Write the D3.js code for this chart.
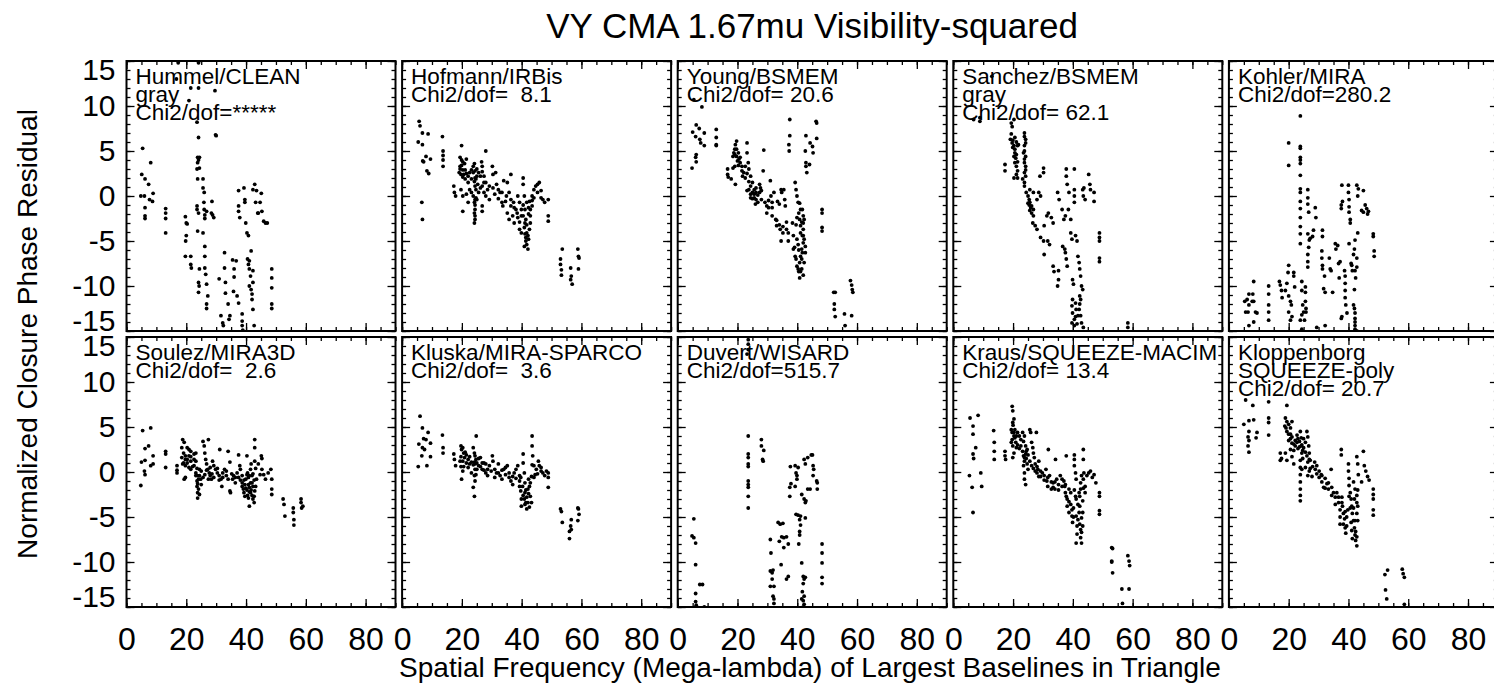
<!DOCTYPE html>
<html>
<head>
<meta charset="utf-8">
<script src="https://cdn.jsdelivr.net/npm/d3@7"></script>
<style>
  body { margin: 0; background: #fff; }
  text { font-family: "Liberation Sans", Arial, Helvetica, sans-serif; fill: #000; }
</style>
</head>
<body>
<div id="chart"></div>
<script>
// chart text
var title = "VY CMA 1.67mu Visibility-squared";
var xTitle = "Spatial Frequency (Mega-lambda) of Largest Baselines in Triangle";
var yTitle = "Normalized Closure Phase Residual";

var panelLabels = [
  ["Hummel/CLEAN", "gray", "Chi2/dof=*****"],
  ["Hofmann/IRBis", "Chi2/dof=  8.1"],
  ["Young/BSMEM", "Chi2/dof= 20.6"],
  ["Sanchez/BSMEM", "gray", "Chi2/dof= 62.1"],
  ["Kohler/MIRA", "Chi2/dof=280.2"],
  ["Soulez/MIRA3D", "Chi2/dof=  2.6"],
  ["Kluska/MIRA-SPARCO", "Chi2/dof=  3.6"],
  ["Duvert/WISARD", "Chi2/dof=515.7"],
  ["Kraus/SQUEEZE-MACIM", "Chi2/dof= 13.4"],
  ["Kloppenborg", "SQUEEZE-poly", "Chi2/dof= 20.7"]
];

// tick values
var xMajor = [0, 20, 40, 60, 80];
var xMinor = [0,5,10,15,20,25,30,35,40,45,50,55,60,65,70,75,80,85,90];
var yMajor = [-15, -10, -5, 0, 5, 10, 15];
var yMinor = [-15,-14,-13,-12,-11,-10,-9,-8,-7,-6,-5,-4,-3,-2,-1,0,1,2,3,4,5,6,7,8,9,10,11,12,13,14,15];

// [spatial frequency, normalized residual]
var p1 = [
[5.4,5.3],[5.1,2.4],[6.2,1.9],[7.4,1.3],[8.1,3.7],[4.8,0],[6.0,0],[6.2,-1.3],[6.2,-2.2],[6.2,-2.5],[7.7,-0.4],[8.7,-0.6],[8.9,0.3],
[13.1,-1.4],[13.1,-1.9],[13.1,-2.5],[13.1,-4.1],
[19.7,-2.3],[20.0,-3.0],[20.3,-3.1],[20.0,-4.4],[19.8,-5.0],[19.7,-6.7],[21.5,-6.7],[21.5,-7.6],[21.7,-8.0],
[23.8,4.3],[24.1,4.0],[23.8,3.7],[23.6,3.0],[24.4,4.3],[23.8,1.9],[24.4,3.1],[23.6,-1.1],[23.6,-1.5],[24.1,-1.9],[23.8,-3.9],[24.4,-8.1],[24.1,-9.6],[24.3,-10.0],[24.1,-10.7],
[25.6,1.9],[25.6,0.9],[26.0,0.4],[25.9,-0.7],[26.0,-1.5],[26.2,-2.1],[26.2,-2.5],[26.8,-1.7],[25.6,-4.1],[26.2,-5.6],[26.2,-6.7],[26.2,-8.0],[26.5,-8.7],[26.8,-9.8],[27.2,-11.1],[26.8,-12.0],[26.8,-12.5],
[28.6,-0.6],[28.4,-1.9],[28.8,-2.1],[29.2,-2.4],
[21.5,12.0],[24.1,12.0],[20.9,10.6],[29.6,11.7],[29.8,6.8],[30.0,6.7],[24.1,6.5],[17.3,14.8],[24.1,14.8],[16.7,13.0],[23.6,8.2],
[31.0,-9.2],[31.6,-13.3],[32.2,-14.1],[32.8,-6.3],[32.8,-8.0],[33.1,-9.6],[33.1,-10.8],[32.4,-14.4],[34.0,-12.0],[34.3,-13.7],[34.6,-13.3],[35.5,-7.1],[36.0,-8.1],[36.0,-9.0],[35.8,-10.6],[36.7,-7.2],[37.0,-11.1],[37.5,-11.9],
[37.5,0.6],[37.5,-1.1],[37.5,-1.7],[37.9,-2.4],[38.7,-13.1],[38.7,-13.9],[38.7,-14.4],[38.9,-14.9],
[39.3,0.9],[39.6,-0.4],[39.6,-0.7],[39.9,-3.0],[40.3,-4.1],[40.8,-4.4],[40.5,-7.0],[40.8,-7.6],[41.1,-7.2],[41.1,-8.1],[41.5,-8.9],[41.7,-6.1],[42.3,-8.3],[42.3,-9.6],[41.7,-10.4],[42.0,-10.9],[42.3,-12.6],[42.7,-14.4],[42.0,-11.5],[41.1,-10.0],
[42.3,0.7],[42.9,1.3],[43.5,0.6],[43.2,-0.7],[43.9,-1.9],[44.1,-1.9],[45.1,0.3],[44.7,-0.7],[45.3,-1.7],[45.9,-2.8],[46.5,-3.0],[47.1,-3.0],
[48.6,-8.1],[48.6,-9.1],[48.6,-10.2],[48.6,-12.0],[48.6,-12.5]
];

var p2 = [
[5.7,8.3],[6.0,7.8],[6.8,7.0],[8.7,6.9],[5.4,6.0],[6.8,5.7],[8.0,4.4],[6.9,3.9],[7.2,3.8],[9.5,4.1],[8.3,2.8],[8.9,2.5],[6.6,-0.7],[6.8,-2.6],
[13.5,6.6],[13.7,5.0],[13.7,4.5],[13.7,4.0],[13.7,3.3],
[19.9,5.6],[19.4,4.3],[19.9,4.0],[20.3,3.8],[19.4,3.3],[20.9,3.6],[21.5,4.1],[19.1,2.6],[19.7,2.4],[20.3,2.1],[21.1,1.9],[22.1,1.5],[23.2,1.9],[23.8,2.6],[24.4,2.8],[25.0,3.0],[26.6,3.8],[26.8,3.3],[28.0,5.0],[27.4,2.2],[24.4,1.1],[24.7,0.7],[23.8,0],[24.2,-0.7],[24.4,-1.5],[24.4,-2.2],[24.2,-3.0],[25.0,-0.4],[25.6,0.4],[26.2,0.9],[26.8,1.1],[27.4,1.5],
[17.3,1.1],[17.5,0.4],[17.9,0],[19.7,0.7],[20.3,0],[21.5,0.2],[22.1,-0.7],[20.3,-1.7],[22.6,0.7],[23.2,0.4],[26.8,-1.1],[26.8,-1.7],[28.0,0],[28.6,0.7],[29.2,-0.4],
[30.2,3.3],[30.4,2.4],[31.3,2.6],[31.6,1.3],[32.2,0.7],[32.8,0.4],[33.4,-0.7],[33.7,-1.1],[34.0,1.7],[35.2,1.5],[36.4,2.4],[35.8,0.4],[36.4,-0.4],[35.2,-1.9],[35.8,-2.6],[37.0,-2.2],[37.5,-3.0],[38.1,-1.5],[38.7,0],[39.3,-0.7],[39.3,-3.7],[39.9,-4.1],
[40.5,2.0],[40.5,1.3],[40.9,0],[41.1,-1.5],[41.1,-3.0],[41.4,-4.6],[41.7,-5.4],[42.1,-5.9],[42.3,-4.8],[42.6,-3.7],[42.9,-3.0],[42.9,-2.2],[43.5,-1.1],[43.5,0],[44.1,0.7],[44.7,1.1],[45.3,1.3],[45.9,1.5],[46.5,-0.2],[47.1,-0.4],[47.7,-0.7],[48.9,-0.4],[48.9,-2.2],[48.9,-2.8],[42.3,-2.0],[41.7,-0.7],[39.9,-1.5],[38.5,-1.9],[37.3,-0.7],[34.9,0],
[19.4,3.0],[19.9,3.4],[20.3,2.9],[20.6,2.4],[21.1,2.9],[21.5,2.5],[22.1,2.2],[22.6,2.6],[23.2,2.9],[23.8,3.3],[24.2,3.6],[24.4,2.0],[24.2,1.6],[24.7,1.9],[25.0,2.2],[25.6,2.6],[26.2,2.2],[26.8,2.7],[24.4,-0.4],[24.4,-1.0],[24.2,-1.9],[24.4,-2.6],[24.7,-0.2],[25.3,1.3],[27.4,0.4],[28.0,1.5],[29.2,1.1],[30.4,0.9],[31.0,0.2],[32.2,-0.3],[33.4,0.4],[34.6,-0.6],[36.4,-1.1],[37.5,-1.3],[38.7,-2.4],[39.3,-2.9],[39.9,-2.2],[40.5,-1.0],[40.5,-2.2],[40.9,-3.5],[41.1,-4.2],[41.4,-2.6],[41.7,-3.2],[41.7,-4.1],[42.1,-4.4],[42.3,-1.3],[42.6,-0.6],[42.9,-1.5],[43.5,-0.5],[44.1,-0.2],[45.3,0.4],[46.5,0.6],[41.4,-5.0],[40.9,-5.6],
[53.0,-7.0],[53.0,-7.6],[53.3,-8.2],[53.3,-8.8],[53.6,-5.9],[56.4,-8.0],[56.6,-8.9],[56.4,-9.3],[56.9,-9.8],[58.8,-5.9],[59.0,-6.7],[59.2,-6.9],[59.0,-8.1]
];

var p3 = [
[5.4,10.7],[8.1,9.9],[6.2,7.9],[7.2,7.5],[5.0,7.1],[6.0,6.6],[7.4,6.3],[8.9,7.0],[7.7,5.9],[8.9,5.6],[6.2,4.6],[6.0,4.3],[6.2,3.8],[4.8,3.1],
[12.9,7.4],[12.9,6.5],[12.9,5.7],[12.9,5.6],
[19.7,6.1],[19.3,5.7],[19.1,5.2],[18.8,4.8],[18.5,4.4],[19.7,4.4],[20.3,4.8],[20.5,4.1],[19.1,3.3],[18.5,3.1],[16.7,3.0],[16.7,2.4],[16.9,2.1],[17.9,1.9],[19.3,1.3],[20.9,3.7],[21.5,2.8],[21.7,2.2],[22.6,3.3],[23.2,5.9],[23.2,4.8],[23.6,3.7],[23.8,3.0],[24.4,2.2],[25.0,1.5],[23.8,0.7],[23.2,0.6],[24.4,0.2],[25.6,0.7],[26.2,0.4],[26.2,-0.4],[26.8,-0.7],[26.0,-0.9],[27.4,1.3],[27.7,0.9],[28.0,0.6],[28.6,2.8],[28.8,5.1],
[29.2,-0.7],[29.8,-1.1],[29.8,-1.9],[30.4,-1.3],[31.0,1.7],[31.2,0],[31.6,-0.7],[31.6,-1.3],[32.2,0.4],[32.8,-2.6],[33.1,-3.3],[33.4,-0.6],[34.0,-0.9],[34.3,-3.7],[34.6,0.7],[34.8,0.4],[35.5,0.7],[35.8,-0.4],[36.0,-1.1],[36.4,-3.7],[37.0,-4.1],[35.2,-4.1],[34.6,-5.0],[37.0,-5.0],
[37.5,8.5],[37.5,6.7],[37.2,5.7],[37.3,5.0],[38.4,-3.0],[38.7,-4.4],[38.7,-5.9],[39.3,1.5],[39.6,0.7],[39.9,0],[40.3,-0.7],[40.5,-1.9],[39.9,-2.4],[39.1,-5.7],[39.3,-6.7],[39.6,-7.0],[39.9,-7.8],[40.3,-8.1],[40.5,-8.4],[40.8,-9.1],[41.1,-6.7],[41.5,-5.9],[41.7,-1.5],[42.0,-2.2],[42.0,-3.0],[42.0,-3.7],[42.3,-4.8],[42.7,-5.6],[42.7,-6.3],[42.3,-7.4],[41.1,-1.5],[40.8,-2.6],[41.1,-4.1],[41.7,-4.4],[41.5,-8.1],
[19.1,4.6],[19.7,5.2],[20.0,3.9],[20.3,3.4],[20.9,4.3],[21.5,3.3],[22.1,2.6],[22.6,2.0],[23.2,2.5],[23.8,1.6],[24.4,1.1],[24.4,-0.2],[25.0,0.4],[25.0,-0.3],[25.6,-0.2],[25.6,0.2],[26.2,0.9],[26.8,0.1],[27.4,0.4],[28.0,-0.4],[30.4,-0.5],[31.6,-2.2],[33.1,-2.7],[34.0,-3.2],[35.2,-3.4],[36.4,-2.9],[39.6,-3.2],[39.9,-4.8],[40.3,-5.4],[40.5,-6.0],[40.8,-7.4],[41.1,-8.4],[41.5,-7.0],[41.7,-6.3],[42.0,-5.2],[42.0,-4.4],[41.1,-3.3],[40.8,-0.8],[41.5,-2.9],[42.3,-2.6],[42.0,-8.8],
[42.9,6.7],[42.7,5.0],[42.9,3.7],[42.9,3.3],[43.2,2.6],[44.1,3.5],[44.3,5.9],[45.1,5.5],[45.3,4.8],[46.3,8.3],[46.5,8.1],[46.5,6.4],
[48.3,-1.5],[48.3,-1.9],[48.3,-3.5],[48.3,-3.9],
[52.2,-10.7],[52.7,-10.7],[52.4,-12.0],[52.4,-12.6],[52.7,-13.4],[55.8,-13.1],[56.0,-14.4],[57.8,-9.4],[58.2,-9.9],[58.4,-10.4],[58.6,-10.7],[58.2,-13.3]
];

var p4 = [
[8.9,8.7],[6.8,8.5],[8.9,8.3],[12.9,13.3],[19.4,8.1],[19.7,7.7],[20.3,8.5],
[19.4,6.9],[19.1,6.3],[19.7,5.9],[19.9,5.4],[20.6,6.5],[21.1,6.0],[21.5,5.6],[20.6,4.8],[21.8,5.7],[20.3,4.4],[20.6,3.7],[21.1,3.3],[21.5,2.8],[20.3,2.0],[21.5,2.0],[17.3,3.5],[17.3,2.8],
[23.8,7.0],[24.2,6.3],[23.8,5.6],[23.5,4.8],[23.8,4.1],[24.2,3.3],[23.8,2.6],[23.2,1.9],[23.8,1.1],[24.4,0.4],[25.0,0],[25.4,-0.4],[25.6,-0.7],[25.9,-1.3],[26.2,-1.9],[26.8,-2.2],[26.6,-3.0],[27.4,-3.3],[25.6,0.7],[26.8,0.4],[28.0,-0.4],[28.6,0.4],[29.2,0],[30.2,3.1],[30.2,2.6],[29.0,2.2],[28.0,-3.7],[29.2,-4.6],[30.2,-5.0],[30.4,-3.3],[31.3,-2.2],[31.8,-1.9],[32.8,-2.4],[33.4,-3.0],[31.6,-5.0],[32.2,-5.4],[30.4,-6.5],[33.4,-7.8],[33.7,-8.4],[35.2,-8.3],[35.2,-9.3],[34.9,-10.0],
[19.9,6.2],[20.3,5.6],[20.6,5.2],[20.9,4.2],[21.1,4.6],[21.5,3.8],[21.1,2.4],[23.8,6.6],[24.2,5.9],[23.8,5.0],[24.2,4.4],[23.8,3.7],[24.2,2.9],[24.2,2.2],[23.8,1.5],[25.0,-0.8],[25.4,-1.0],[25.6,-1.6],[26.2,-1.1],[26.8,-1.5],
[34.9,0.4],[35.4,-0.4],[36.4,-1.5],[36.6,-5.6],[37.3,-5.9],[37.5,-6.3],[37.8,-7.0],[38.1,-7.8],[37.0,-2.6],[37.5,-2.2],[38.5,-1.5],[37.8,3.0],[37.8,2.2],[38.1,1.3],[38.7,0.4],[39.3,-2.6],[39.3,-4.1],[39.7,-4.8],[39.9,-9.3],[40.2,-9.8],[40.5,-0.7],[40.5,0],[40.5,0.7],[40.5,3.0],[40.9,-4.4],[41.4,-5.0],[41.7,-6.7],[42.1,-7.4],[42.3,-8.1],[42.6,-8.9],[42.9,-10.0],[43.3,-10.4],[42.3,-11.1],[42.1,-12.6],[42.6,-13.3],[42.9,-14.1],[43.5,-14.6],[39.9,-11.5],[39.7,-12.2],[39.9,-13.0],[40.5,-13.7],[39.7,-14.1],[40.9,-11.9],[41.1,-12.6],[41.7,-13.3],
[40.5,-14.4],[40.9,-13.4],[41.4,-14.2],[42.3,-12.0],[42.6,-11.5],
[43.3,0.7],[43.5,0],[44.1,-0.4],[43.7,0.9],[45.3,2.4],[45.7,1.3],[45.9,0.7],[47.1,0.4],[47.1,-0.6],
[48.9,-4.1],[48.9,-4.6],[48.9,-5.0],[48.9,-6.9],[48.9,-7.3],[58.4,-14.1],[58.4,-14.6]
];

var p5 = [
[23.9,8.9],[20.0,5.9],[20.0,3.4],[23.9,5.5],[23.9,5.3],[23.9,4.3],[23.9,4.0],[23.9,3.6],[23.9,2.3],[23.9,0.8],[23.9,0.4],[23.9,-0.6],[23.9,-1.4],[23.9,-2.4],[23.9,-3.4],[23.9,-4.2],[23.9,-5.3],
[26.4,0.7],[26.4,-0.2],[26.4,-0.9],[26.7,-1.8],[26.4,-4.2],[26.9,-4.9],[26.7,-5.7],[26.4,-6.5],[26.4,-7.3],[26.4,-7.9],[28.9,-1.3],[29.1,-2.4],[28.3,-3.8],[28.0,-4.5],[27.2,-4.7],
[31.3,-3.8],[31.3,-4.5],[31.1,-6.1],[31.1,-6.9],[31.3,-7.7],[31.3,-8.1],[32.0,-8.9],[31.7,-10.3],[32.2,-10.7],[33.6,-6.9],[33.9,-8.1],[34.2,-8.3],[34.7,-10.7],[35.6,-5.3],[35.8,-5.9],[36.4,-5.5],[36.7,-7.5],[36.9,-9.1],[37.2,-7.3],
[37.6,-1.4],[37.6,-1.0],[37.8,1.2],[38.0,-0.6],[38.7,-8.3],[38.9,-8.9],[38.9,-9.7],[38.9,-10.5],[38.9,-11.3],[39.1,-12.1],[40.0,1.2],[40.0,0.4],[40.2,-0.4],[40.2,-1.2],[40.2,-1.8],[40.6,-2.6],[40.6,-3.0],[40.2,-5.3],[40.9,-7.5],[41.1,-7.7],[41.3,-8.3],[41.7,-6.5],[42.0,-5.9],[42.2,-4.9],[42.2,-8.3],[42.4,-9.1],[42.8,-7.9],[42.8,-6.9],[43.1,-4.1],[42.0,-10.4],
[42.8,1.2],[43.3,0.8],[43.1,0],[44.4,-1.6],[45.0,-1.8],[45.0,0.6],[45.6,-1.0],[46.1,-1.4],[46.4,-2.0],[46.7,-1.7],[48.3,-4.2],[48.3,-4.5],[48.6,-6.1],[48.6,-6.7],
[16.9,-9.5],[17.2,-9.9],[17.6,-10.5],[17.8,-11.3],[20.0,-7.7],[19.8,-8.5],[19.4,-9.7],[18.9,-10.5],[20.0,-11.1],[20.6,-11.7],[20.9,-12.1],[20.0,-12.9],[21.1,-13.4],[20.6,-13.8],[21.7,-8.5],[21.7,-8.9],[22.0,-10.1],[24.4,-9.5],[24.4,-10.5],[24.7,-12.1],[25.0,-12.9],[24.4,-13.2],[23.9,-13.8],[24.4,-14.8],[25.6,-10.1],[25.6,-10.7],[25.6,-11.7],[25.8,-12.5],[25.8,-12.9],[25.3,-13.8],
[13.3,-10.0],[13.3,-10.9],[13.3,-12.1],[13.3,-12.9],[13.3,-13.8],[8.3,-9.5],[8.0,-10.9],[7.8,-11.7],[8.3,-11.7],[8.9,-12.9],[9.4,-13.0],[8.3,-14.0],[6.7,-10.9],[6.1,-11.5],[6.7,-12.1],[6.4,-12.9],[6.7,-14.4],[5.3,-11.7],[5.6,-12.9],
[29.4,-14.6],[32.2,-14.4],[37.6,-13.6],[37.8,-13.4],[39.5,-13.0],[41.7,-12.1],[42.0,-12.5],[42.2,-13.0],[42.2,-13.6],[42.2,-14.0],[42.2,-14.4],[42.2,-14.8],[42.8,-15.0]
];

var p6 = [
[5.4,4.6],[8.1,4.9],[6.2,2.6],[7.4,2.9],[8.9,1.8],[8.1,0.7],[5.0,1.1],[6.2,1.3],[6.0,0.1],[6.2,-0.3],[4.8,-1.5],[8.9,0.9],
[13.1,2.3],[13.1,2.0],[13.1,0.5],[16.9,0.7],[16.9,0.2],[16.9,-0.1],
[18.8,3.6],[19.3,3.3],[18.5,2.7],[20.3,2.7],[20.9,2.5],[21.5,2.3],[19.1,2.1],[19.7,1.8],[18.5,1.6],[20.3,1.4],[21.5,1.2],[22.6,1.4],[23.2,2.1],[18.8,0.9],[19.7,0.7],[20.9,0.5],[21.5,0.3],[22.6,0.7],[19.3,-0.8],[19.7,-0.6],
[23.2,-0.1],[23.2,-0.4],[23.6,-1.0],[23.6,-1.6],[23.8,-2.3],[23.8,-2.9],[24.1,-1.9],[24.4,-0.4],[24.8,-0.8],[25.0,-1.4],[25.6,3.4],[26.0,2.9],[26.2,2.1],[26.5,1.4],[26.8,0.9],[27.4,3.6],[27.2,0.3],[27.7,-0.1],[28.0,-0.4],[28.4,-0.8],[28.8,1.2],[29.2,0.7],[29.8,0.3],[30.4,-0.1],[31.0,-0.4],[31.2,2.5],[31.6,-0.8],[31.9,-1.6],[32.2,-0.1],[32.8,0.3],[33.4,-0.4],[34.0,2.3],[34.6,1.1],[34.6,-2.1],[34.8,-2.3],[35.5,-0.8],[35.8,-0.4],[36.4,-1.2],[37.0,-0.1],
[37.5,1.9],[37.9,0.7],[38.1,0.3],[38.7,-0.4],[38.7,-1.2],[39.1,-1.9],[39.3,-2.3],[39.6,-2.7],[39.9,-0.8],[40.3,1.8],[40.5,-0.1],[40.8,-1.4],[41.1,-1.7],[41.1,-3.8],[41.5,-2.3],[41.7,0.9],[42.0,-0.4],[42.3,-3.0],[42.7,-3.4],[42.7,-2.7],[42.9,1.2],[42.9,3.6],[42.9,2.7],[43.2,-1.6],[43.5,-0.8],[40.8,-0.6],[41.5,0.3],[40.3,-2.0],[42.0,-1.2],
[19.1,1.0],[19.7,1.4],[20.3,1.0],[20.9,1.8],[21.5,1.7],[22.1,0.6],[22.6,2.0],[23.2,1.2],[23.6,0.4],[23.8,-0.4],[23.8,-1.3],[24.1,-0.8],[24.4,-2.5],[24.4,0.3],[25.0,0.1],[25.6,-0.6],[26.2,-0.3],[26.8,0.2],[27.4,-0.8],[28.0,0.5],[28.6,-0.2],[29.2,-0.6],[30.4,0.4],[31.0,-0.9],[32.2,-0.6],[33.4,0.1],[34.0,-0.8],[35.2,-0.2],[36.4,-0.6],[37.5,-0.6],[38.1,-0.9],[38.7,-1.6],[39.3,-0.9],[39.6,-1.4],[39.9,-1.8],[40.3,-0.3],[40.5,-2.6],[40.8,-2.9],[41.1,-0.4],[41.1,-2.2],[41.5,-1.2],[41.7,-2.0],[42.0,-2.6],[42.3,-1.6],[42.3,-0.2],[42.7,-0.9],[42.9,-2.1],[43.2,0.4],[44.1,0.9],[44.7,-0.3],
[45.1,1.8],[45.3,1.5],[45.3,0.3],[45.9,-0.3],[46.5,-0.8],[47.4,-0.1],[48.3,0.3],[48.6,-0.8],[48.6,-1.9],[48.6,-2.5],
[52.4,-3.0],[52.7,-3.6],[53.0,-4.9],[55.8,-4.0],[55.8,-4.5],[56.0,-5.3],[56.0,-5.9],[58.4,-3.0],[58.4,-3.4],[58.6,-4.0],[59.0,-3.8]
];

var p7 = [
[6.0,6.2],[6.8,4.9],[7.2,3.7],[8.0,3.6],[8.7,4.4],[5.6,3.1],[6.8,2.7],[7.5,2.5],[9.5,3.2],[6.6,1.8],[8.3,0.7],[9.5,1.7],[5.4,0.6],
[13.5,4.1],[13.7,2.7],[13.7,2.1],
[17.3,2.0],[17.5,1.4],[17.9,0.7],[19.7,2.9],[19.9,2.5],[20.3,2.7],[20.6,2.1],[20.9,1.6],[19.4,1.2],[19.7,0.6],[20.3,0.1],[19.9,-0.8],[21.5,1.0],[22.1,0.5],[22.6,0.9],[23.2,-0.1],[23.8,2.7],[24.2,2.1],[24.4,1.8],[24.7,1.4],[25.0,1.0],[24.4,0.3],[24.2,-0.4],[24.4,-1.0],[23.8,-1.7],[24.2,-2.7],[24.8,4.0],[25.6,0.7],[26.2,1.6],[26.8,0.3],[27.4,1.0],[28.0,-0.1],[28.6,0.3],[29.2,0.7],
[30.2,1.8],[30.4,1.2],[31.0,0.3],[31.6,-0.1],[32.2,0.9],[32.8,-0.4],[33.4,-0.8],[34.0,0.3],[34.6,-0.3],[35.2,0.7],[35.8,-0.1],[36.4,-1.0],[37.0,-1.4],[37.5,-0.1],[38.1,0.3],[38.7,0.7],
[39.3,-0.4],[39.3,-1.6],[39.7,-2.1],[39.9,-3.0],[39.9,-3.8],[40.5,2.0],[40.5,1.0],[40.9,-0.1],[41.1,-1.2],[41.1,-2.3],[41.4,-3.4],[41.7,-4.1],[42.1,-1.9],[42.3,-0.8],[42.6,-1.6],[42.9,-2.7],[43.3,-3.4],[43.5,4.0],[43.5,2.9],[43.7,1.8],[44.1,0.7],[44.5,-0.3],[44.9,0.3],[45.6,1.2],[45.9,0.7],[46.5,0.1],[47.1,-0.1],[47.7,-0.4],[48.3,0.1],[48.9,-0.1],[48.9,-0.6],[48.9,-1.7],
[19.7,1.7],[20.3,1.2],[20.6,0.6],[21.1,2.2],[21.5,1.9],[22.1,1.4],[22.6,1.7],[23.2,1.1],[23.8,0.8],[24.2,1.1],[24.4,0.9],[24.7,-0.3],[25.0,0.3],[25.6,1.5],[26.2,0.6],[26.8,1.0],[27.4,0.2],[28.0,0.9],[28.6,-0.4],[29.8,0.1],[31.0,-0.6],[32.2,-0.1],[33.4,0.2],[34.6,0.5],[35.8,-0.6],[37.0,-0.5],[38.1,-0.7],[39.3,-1.0],[39.7,-0.6],[40.3,-1.6],[40.5,-2.6],[40.9,-3.0],[41.1,-3.6],[41.4,-2.0],[41.7,-2.8],[42.1,-3.4],[42.3,-2.4],[42.6,-3.9],[42.9,-1.2],[43.3,-0.5],[43.5,0.8],[44.1,-0.6],[45.3,-0.2],[46.5,0.5],
[53.0,-4.1],[53.3,-4.4],[53.6,-5.6],[56.6,-5.3],[56.4,-6.0],[56.0,-6.6],[56.0,-7.4],[56.6,-6.4],[58.8,-4.0],[59.0,-4.1],[59.2,-4.7],[58.8,-5.4]
];

var p8 = [
[23.6,14.7],[23.6,14.2],[23.6,13.6],[23.2,13.1],
[23.6,4.0],[23.6,2.0],[23.6,1.6],[23.6,0.9],[23.6,0.6],[23.6,-1.0],[23.6,-1.4],[23.6,-1.7],[23.6,-2.7],[23.6,-4.0],[28.0,3.6],[28.0,2.9],[28.8,2.4],[28.4,1.4],[28.6,1.2],
[5.4,-5.2],[4.8,-7.1],[5.4,-7.3],[6.0,-7.9],[6.0,-10.3],[6.0,-13.5],[6.0,-14.4],[6.2,-14.8],[7.4,-12.5],[8.3,-12.5],[8.9,-15.0],
[31.0,-7.5],[31.2,-9.0],[31.0,-11.0],[31.6,-11.2],[31.9,-10.9],[31.6,-11.9],[31.0,-12.7],[32.2,-12.7],[31.9,-13.8],[32.2,-14.1],[32.2,-14.6],[33.6,-5.6],[34.0,-7.7],[34.3,-5.8],[35.2,-5.7],[35.5,-7.3],[34.8,-7.2],[35.5,-8.4],[34.6,-10.3],[36.4,-11.9],[37.0,-11.6],[36.4,-7.2],[37.0,-8.0],
[37.5,-2.7],[37.5,-1.7],[37.9,-1.3],[37.7,0.6],[39.3,0.7],[39.6,-0.1],[39.9,-0.4],[39.9,-0.8],[39.3,-1.6],[40.3,0.5],[39.6,-4.7],[40.3,-4.8],[40.8,-5.3],[41.1,-5.9],[40.8,-6.6],[40.8,-7.0],[40.5,-8.0],[41.1,-4.9],[41.5,-10.1],[42.0,-11.6],[42.3,-11.9],[42.7,-11.7],[42.0,-12.4],[41.7,-13.3],[42.3,-13.8],[41.5,-14.1],[42.0,-14.3],[42.3,-14.7],[42.0,-15.0],[41.5,-2.5],[42.3,-3.0],[42.7,-3.4],[42.9,-3.2],[42.7,-5.1],
[42.3,1.4],[42.7,0.9],[43.5,1.6],[44.7,1.9],[45.1,1.9],[45.3,0.7],[45.5,0.3],[45.3,-0.4],[43.5,-1.9],[44.3,-1.9],[46.5,-1.0],[46.7,-1.2],[46.7,-1.9],
[48.3,-8.0],[48.3,-9.0],[48.3,-10.1],[48.3,-11.7],[48.3,-12.4]
];

var p9 = [
[5.6,6.0],[6.6,5.1],[8.3,6.3],[6.6,4.2],[7.5,2.7],[6.6,2.0],[6.8,1.5],[5.4,-0.4],[6.3,-1.7],[6.6,-4.5],[9.2,-0.1],[9.5,-1.6],
[13.5,4.6],[13.7,3.3],[13.7,2.3],[13.7,1.4],[17.3,2.3],[17.3,1.8],[17.5,1.4],
[19.7,7.3],[19.9,6.8],[20.3,5.9],[19.9,5.5],[19.4,4.7],[19.7,4.4],[20.6,4.7],[20.3,4.0],[19.7,3.6],[19.4,3.3],[19.9,2.9],[20.9,3.3],[21.1,2.7],[20.3,2.1],[19.9,1.6],[21.5,4.4],[22.1,4.0],[22.6,3.6],[23.2,4.4],[23.8,4.0],[23.5,3.4],[24.2,2.9],[24.4,2.3],[23.8,1.6],[23.8,1.2],[23.5,0.7],[23.8,-0.1],[23.8,-0.8],[24.2,-1.4],[24.7,0.9],[25.0,0.3],[25.6,4.7],[25.9,4.4],[26.2,3.3],[26.6,2.7],[26.8,2.1],[27.1,1.6],[27.4,0.9],[27.8,4.4],[28.0,-0.1],[28.3,0.3],[28.6,1.2],[29.2,0.1],[29.8,-0.1],[30.4,-0.4],[31.0,0.3],[31.3,-1.0],[31.6,-1.6],[31.8,2.5],[32.2,-0.4],[32.8,-1.9],[33.4,-1.2],[34.0,-1.9],[34.2,1.4],[34.6,-0.8],[35.2,-1.4],[35.8,-0.4],[36.4,-0.8],[37.0,-1.0],[37.3,-1.6],[37.5,-2.3],[37.8,1.8],[37.8,-2.7],[38.1,-3.0],[38.1,-3.8],[38.7,-4.5],[38.7,-1.9],[39.3,-2.3],[39.7,-4.9],[39.9,-5.6],[40.2,-4.0],
[40.5,1.9],[40.5,1.4],[40.5,0.7],[40.9,-0.1],[41.1,-0.8],[41.1,-3.0],[41.1,-7.9],[41.4,-6.0],[41.7,-5.3],[42.1,-4.5],[42.3,-3.8],[42.3,-2.7],[42.6,-1.9],[42.6,-1.2],[42.9,-0.4],[42.9,-6.7],[42.9,-7.9],[43.3,-4.5],[43.3,-6.0],[43.5,2.5],[43.5,1.4],[43.7,-0.1],[44.1,-1.6],[44.1,-2.3],[44.7,-0.4],[45.3,-0.1],[45.9,0.1],[46.5,-0.6],[47.1,-0.3],[47.7,-1.2],[48.9,-2.3],[48.9,-2.7],[48.9,-4.3],[48.9,-4.7],
[20.0,5.2],[20.3,4.4],[20.6,3.8],[21.1,4.0],[21.5,3.0],[22.1,2.6],[22.6,2.9],[23.2,2.3],[23.5,1.8],[24.2,2.0],[24.4,1.5],[24.7,2.5],[25.0,1.9],[25.6,1.2],[26.2,0.7],[26.8,0.4],[27.4,0.1],[28.0,0.6],[28.6,-0.5],[29.2,-0.5],[30.4,-0.9],[31.6,-0.6],[32.8,-1.1],[33.4,-1.7],[34.0,-1.1],[35.2,-2.0],[36.4,-1.6],[37.5,-1.4],[38.7,-3.3],[39.3,-3.6],[39.7,-4.2],[40.2,-5.0],[40.5,-2.0],[40.9,-2.7],[41.1,-4.9],[41.4,-6.9],[41.7,-3.6],[42.1,-2.3],[42.3,-5.8],[42.6,-6.4],[42.9,-5.1],[43.3,-3.2],[43.5,-1.8],[43.5,-0.8],[42.6,-7.3],
[53.0,-8.4],[53.3,-8.5],[53.0,-9.9],[53.0,-10.0],[53.3,-11.2],[56.4,-13.0],[56.6,-14.6],[58.4,-9.3],[58.8,-9.9],[59.0,-10.4],[58.8,-13.0]
];

var p10 = [
[5.6,8.0],[8.0,7.4],[13.3,7.8],[5.0,5.3],[6.7,5.7],[8.3,5.8],[6.7,4.5],[6.4,3.9],[6.7,3.5],[6.4,2.9],[6.7,2.2],[9.4,4.4],[9.1,3.8],[13.3,6.0],[13.3,5.5],[13.3,4.1],
[19.4,7.4],[18.9,6.0],[19.4,5.6],[20.0,5.3],[20.6,4.9],[21.1,5.6],[19.1,4.9],[18.7,5.1],[20.0,4.2],[20.6,3.7],[21.1,3.9],[21.7,3.1],[22.2,2.9],[22.8,4.1],[23.1,3.7],[23.6,3.4],[23.9,4.5],[24.2,2.9],[24.4,2.1],[24.7,1.5],[25.0,3.7],[25.6,3.3],[26.1,4.5],[26.4,3.9],[26.7,2.9],[26.9,2.1],[27.2,1.3],
[23.9,1.3],[23.9,0.5],[23.9,-0.3],[23.9,-1.1],[23.9,-1.9],[23.9,-2.6],[23.9,-3.2],[17.2,2.1],[17.2,1.3],[17.6,1.5],[18.9,2.1],[19.4,1.3],[20.6,2.5],[21.1,1.7],[21.7,0.9],[24.4,0.3],[25.6,0.5],[26.4,-0.4],[26.9,0.1],[27.8,-0.5],[28.7,1.1],[28.9,0.3],[29.4,-0.2],[30.2,0.1],[30.9,-0.3],[31.1,-1.1],[31.7,-1.7],[32.2,-0.7],[32.8,-1.3],[33.3,-1.9],[34.2,0.3],[34.4,-1.7],[35.0,-2.3],[35.6,-2.8],[36.1,-2.3],[36.7,-3.4],[37.2,-4.2],[37.2,-5.0],[37.2,-5.8],
[37.6,2.5],[37.6,1.9],[37.8,-2.8],[38.0,-3.8],[38.3,-4.6],[38.7,-5.2],[38.9,-6.2],[39.1,-6.8],[39.4,-5.0],[39.8,-4.2],[40.0,0.9],[40.0,0.1],[40.2,-0.7],[40.2,-1.5],[40.6,-2.3],[40.9,-3.0],[41.1,-3.8],[41.3,-4.6],[41.7,-5.4],[42.0,-6.2],[42.2,-7.0],[42.4,-7.6],[42.8,-8.2],[41.3,-7.4],[41.7,-1.1],[42.2,-1.9],[42.8,-2.6],[42.8,-3.4],[42.8,-4.6],[43.1,-5.4],[42.8,1.7],[43.1,0.9],[43.3,-0.3],[44.4,-1.1],[45.0,2.3],[45.3,0.7],[45.8,0.1],[46.4,-0.5],[46.9,-0.9],[48.3,-1.9],[48.3,-2.5],[48.3,-3.0],[48.3,-4.2],[48.3,-4.8],
[19.4,4.5],[20.0,3.5],[20.6,4.2],[21.1,3.2],[21.7,2.4],[22.2,3.5],[22.8,3.3],[23.1,2.6],[23.6,2.8],[24.2,3.8],[24.4,3.0],[24.7,2.4],[25.0,2.7],[25.6,2.2],[26.1,1.8],[26.4,1.1],[26.9,1.4],[27.2,0.4],[28.0,0.6],[29.4,0.7],[30.2,-0.6],[31.1,-0.4],[32.2,-1.8],[33.3,-1.2],[34.4,-2.6],[35.6,-3.6],[36.7,-2.8],[37.8,-3.4],[38.3,-5.8],[38.9,-4.4],[39.4,-6.0],[40.2,-2.7],[40.6,-4.0],[40.9,-5.6],[41.1,-6.5],[41.7,-4.0],[42.0,-3.0],[42.2,-5.4],[42.4,-6.6],[42.8,-7.2],[43.1,-3.8],[43.1,-2.0],
[52.2,-11.4],[53.1,-10.9],[52.4,-13.1],[52.8,-14.1],[58.0,-10.8],[58.3,-11.3],[58.7,-11.7],[58.7,-14.7]
];

var panelData = [p1, p2, p3, p4, p5, p6, p7, p8, p9, p10];

// layout
var width = 1494, height = 686;
var panelLeft = 126.5, panelStep = 275.6;
var panelW = 269, panelH = 270;
var rowTop = [61, 337];

var svg = d3.select("#chart")
  .append("svg")
  .attr("width", width)
  .attr("height", height);

var x = d3.scaleLinear().domain([0, 90]).range([0, panelW]);
var y = d3.scaleLinear().domain([-15, 15]).range([panelH, 0]);

// title
svg.append("text")
  .attr("x", 812)
  .attr("y", 38)
  .attr("text-anchor", "middle")
  .style("font-size", "35px")
  .text(title);

svg.append("text")
  .attr("x", 810)
  .attr("y", 677)
  .attr("text-anchor", "middle")
  .style("font-size", "28px")
  .text(xTitle);

svg.append("text")
  .attr("transform", "translate(37,334) rotate(-90)")
  .attr("text-anchor", "middle")
  .style("font-size", "28px")
  .text(yTitle);

panelData.forEach(function(data, i) {
  var row = Math.floor(i / 5), col = i % 5;
  var g = svg.append("g")
    .attr("transform", "translate(" + (panelLeft + col * panelStep) + "," + rowTop[row] + ")");

  g.append("clipPath")
    .attr("id", "clip" + i)
    .append("rect")
    .attr("width", panelW)
    .attr("height", panelH);

  // minor + major ticks on all four sides, pointing inwards
  var axes = [
    [d3.axisBottom(x), xMinor, xMajor, "translate(0," + panelH + ")"],
    [d3.axisTop(x), xMinor, xMajor, null],
    [d3.axisLeft(y), yMinor, yMajor, null],
    [d3.axisRight(y), yMinor, yMajor, "translate(" + panelW + ",0)"]
  ];
  axes.forEach(function(a) {
    var gm = g.append("g").call(a[0].tickValues(a[1]).tickSize(-4).tickFormat(""));
    var gM = g.append("g").call(a[0].tickValues(a[2]).tickSize(-8).tickFormat(""));
    if (a[3]) { gm.attr("transform", a[3]); gM.attr("transform", a[3]); }
    gm.select(".domain").remove();
    gM.select(".domain").remove();
  });
  g.selectAll(".tick line").attr("stroke", "#000").attr("stroke-width", 1.3);

  // y labels on the first column
  if (col == 0) {
    var yl = g.append("g")
      .call(d3.axisLeft(y).tickValues(yMajor).tickSize(0).tickPadding(11).tickFormat(d3.format("d")));
    yl.select(".domain").remove();
    yl.selectAll("text")
      .style("font-size", "30px")
      .style("font-family", "'Liberation Sans', Arial, sans-serif")
      .attr("fill", "#000")
      .attr("y", function(d) { return d == 15 ? 9 : (d == -15 ? -10 : 0); })
      .text(function(d) { return String(d); });
  }

  // x labels on the bottom row
  if (row == 1) {
    var xl = g.append("g")
      .attr("transform", "translate(0," + panelH + ")")
      .call(d3.axisBottom(x).tickValues(xMajor).tickSize(0).tickPadding(20));
    xl.select(".domain").remove();
    xl.selectAll("text")
      .style("font-size", "32px")
      .style("font-family", "'Liberation Sans', Arial, sans-serif")
      .attr("fill", "#000");
  }

  // panel text
  panelLabels[i].forEach(function(line, k) {
    g.append("text")
      .attr("x", 9)
      .attr("y", 22.5 + k * 18)
      .style("font-size", "22.5px")
      .style("white-space", "pre")
      .text(line);
  });

  // points
  g.append("g")
    .attr("clip-path", "url(#clip" + i + ")")
    .selectAll("circle")
    .data(data)
    .enter()
    .append("circle")
    .attr("cx", function(d) { return x(d[0]); })
    .attr("cy", function(d) { return y(d[1]); })
    .attr("r", 1.9)
    .attr("fill", "#000");

  // frame
  g.append("rect")
    .attr("width", panelW)
    .attr("height", panelH)
    .attr("fill", "none")
    .attr("stroke", "#000")
    .attr("stroke-width", 2);
});
</script>
</body>
</html>
